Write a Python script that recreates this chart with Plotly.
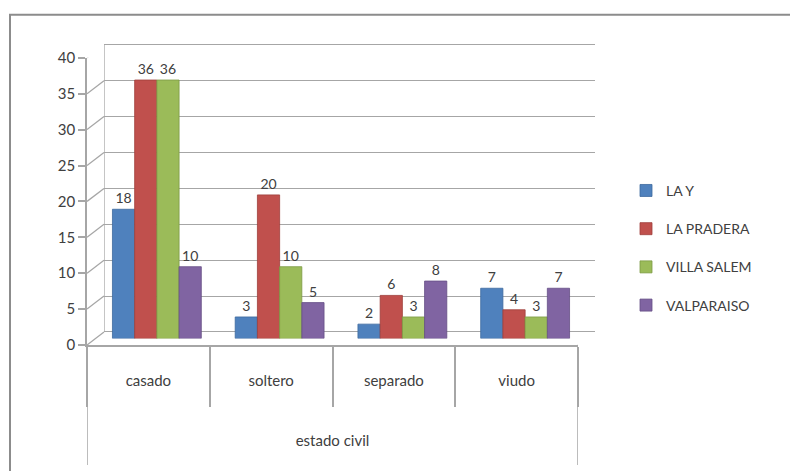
import plotly.graph_objects as go

categories = ["casado", "soltero", "separado", "viudo"]
series_names = ["LA Y", "LA PRADERA", "VILLA SALEM", "VALPARAISO"]
la_y = [18, 3, 2, 7]
la_pradera = [36, 20, 6, 4]
villa_salem = [36, 10, 3, 3]
valparaiso = [10, 5, 8, 7]
y_ticks = [0, 5, 10, 15, 20, 25, 30, 35, 40]
axis_title = "estado civil"

series_values = [la_y, la_pradera, villa_salem, valparaiso]
colors = ["#4F81BD", "#C0504D", "#9BBB59", "#8064A2"]
edges = ["#3E6A9E", "#9E3D3A", "#7C9A44", "#654E85"]
offsets = [-0.362, -0.181, 0.0, 0.181]
bar_w = 0.181

W, H = 790, 471
# front plane geometry (pixels)
FL, FR, FT, FB = 87, 578, 58, 345
dx, dy = 17, 13
s = (FB - FT) / 40.0          # px per unit
e = 0.25                       # extra range so edge gridlines render on back wall
L, RR = FL, FR + dx
B = FB
T = FB - dy - (40 + e) * s
pw, ph = RR - L, B - T

def xdom(shift):
    return [(FL + shift - L) / pw, (FR + shift - L) / pw]

def ydom(shift):
    return [(B - (FB - shift)) / ph, (B - (FT - shift)) / ph]

grid = "#a6a6a6"
txt = "#404040"
font = "Lato, 'Open Sans', sans-serif"

fig = go.Figure()
# empty trace so the back-wall subplot (grid) gets drawn
fig.add_trace(go.Scatter(x=[], y=[], xaxis="x", yaxis="y", showlegend=False,
                         hoverinfo="skip"))
# invisible trace carrying the categories for the front (labelled) axis
fig.add_trace(go.Scatter(x=categories, y=[None] * len(categories), xaxis="x2",
                         yaxis="y2", mode="markers", showlegend=False,
                         hoverinfo="skip"))
for name, vals, c, ec, off in zip(series_names, series_values, colors, edges, offsets):
    fig.add_trace(go.Bar(
        x=categories, y=vals, name=name, xaxis="x3", yaxis="y3",
        marker=dict(color=c, line=dict(color=ec, width=0.8)),
        offset=off, width=bar_w,
        text=vals, texttemplate="%{y}", textposition="outside",
        textfont=dict(size=14, color=txt, family=font),
        cliponaxis=False, legendgroup=name,
    ))

shapes = []
for v in y_ticks:
    shapes.append(dict(type="line", xref="x2", yref="y2",
                       xsizemode="pixel", xanchor=-0.5, x0=0, x1=dx,
                       ysizemode="pixel", yanchor=v, y0=0, y1=dy,
                       line=dict(color=grid, width=1.3)))
shapes.append(dict(type="line", xref="x2", yref="y2",
                   xsizemode="pixel", xanchor=3.5, x0=0, x1=dx,
                   ysizemode="pixel", yanchor=0, y0=0, y1=dy,
                   line=dict(color=grid, width=1.3)))
for xv in (-0.5, 3.5):
    shapes.append(dict(type="line", xref="x2", yref="paper", x0=xv, x1=xv,
                       y0=0, y1=-(465 - B) / ph, line=dict(color=grid, width=1.5)))
shapes.append(dict(type="rect", xref="paper", yref="paper",
                   x0=(10 - L) / pw, x1=(800 - L) / pw,
                   y0=(B - 490) / ph, y1=(B - 15) / ph,
                   line=dict(color="#8c8c8c", width=2)))
# back wall left edge
shapes.append(dict(type="line", xref="x", yref="y", x0=-0.5, x1=-0.5, y0=0, y1=40,
                   line=dict(color=grid, width=1.3)))

back_dom = [(B - (FB - dy + e * s)) / ph, 1.0]

fig.update_layout(
    width=W, height=H,
    margin=dict(l=L, r=W - RR, t=T, b=H - B, autoexpand=False),
    paper_bgcolor="white", plot_bgcolor="rgba(0,0,0,0)",
    barmode="overlay",
    font=dict(family=font, size=14, color=txt),
    showlegend=True,
    legend=dict(x=(626 - L) / pw, y=(B - 175) / ph, xanchor="left", yanchor="top",
                traceorder="grouped", tracegroupgap=17,
                font=dict(size=14, color=txt, family=font), itemwidth=30),
    xaxis=dict(domain=xdom(dx), range=[-0.5, 3.5], anchor="y",
               showgrid=False, showticklabels=False, zeroline=False, showline=False,
               type="linear", fixedrange=True),
    yaxis=dict(domain=back_dom, range=[-e, 40 + e], anchor="x",
               tickvals=y_ticks, showticklabels=False, showgrid=True,
               gridcolor=grid, gridwidth=1.3, zeroline=False,
               showline=False),
    xaxis2=dict(domain=xdom(0), anchor="y2", type="category",
                categoryorder="array", categoryarray=categories,
                range=[-0.5, 3.5], showgrid=False, zeroline=False,
                showline=True, linecolor=grid, linewidth=1.5,
                ticks="outside", tickson="boundaries", ticklen=60,
                tickcolor=grid, tickwidth=1.5,
                ticklabelstandoff=21,
                tickfont=dict(size=15, color=txt, family=font),
                title=dict(text=axis_title, standoff=48,
                           font=dict(size=15, color=txt, family=font))),
    yaxis2=dict(domain=ydom(0), anchor="x2", range=[0, 40],
                tickvals=y_ticks, showgrid=False, zeroline=False,
                showline=True, linecolor=grid, linewidth=1.5,
                ticks="outside", ticklen=7, tickcolor=grid, tickwidth=1.5,
                tickfont=dict(size=15, color=txt, family=font)),
    xaxis3=dict(domain=xdom(dx / 2), anchor="y3", type="category",
                categoryorder="array", categoryarray=categories,
                range=[-0.5, 3.5], visible=False),
    yaxis3=dict(domain=ydom(dy / 2), anchor="x3", range=[0, 40], visible=False),
    shapes=shapes,
)

fig.write_html("out.html", config={"displayModeBar": False},
               post_script="document.body.style.margin='0';")
